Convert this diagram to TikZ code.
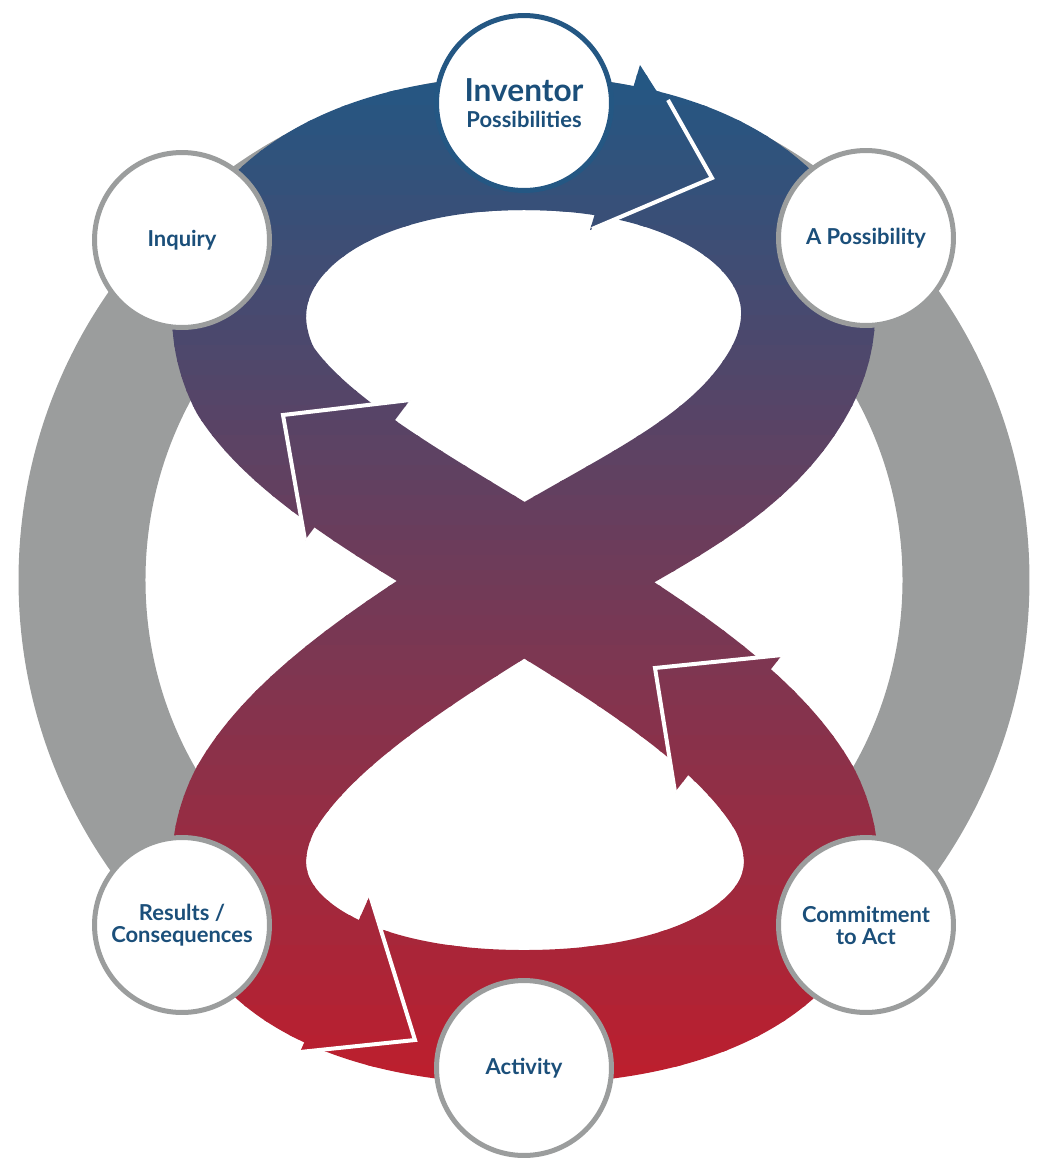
\documentclass[tikz,border=0pt]{standalone}
\usepackage{fontspec}
\setmainfont{Lato}
\definecolor{blueC}{HTML}{245783}
\definecolor{redC}{HTML}{BE1E2D}
\definecolor{grayR}{HTML}{9B9D9D}
\definecolor{txt}{HTML}{1B4F7A}
\newcommand\eightpath{(255,380) .. controls (195,260) and (310,143) .. (524,143) .. controls (740,143) and (855,260) .. (790,380) .. controls (740,470) and (640,510) .. (524,580) .. controls (410,650) and (300,720) .. (255,800) .. controls (195,920) and (310,1017) .. (524,1017) .. controls (740,1017) and (855,920) .. (795,800) .. controls (750,720) and (640,650) .. (524,580) .. controls (410,510) and (300,450) .. (255,380) -- cycle}
\newcommand\arrowheads{(640,65) -- (712,178) -- (590,230) -- cycle (410,400) -- (283,415) -- (305,540) -- cycle (782,655) -- (655,668) -- (675,792) -- cycle (370,895) -- (415,1040) -- (300,1052) -- cycle}
\begin{document}
\begin{tikzpicture}[x=0.02cm,y=-0.02cm,
  stage/.style={circle,draw=grayR,line width=0.1cm,fill=white,minimum size=3.5cm,align=center,font=\bfseries\fontsize{12.5}{13.5}\selectfont,text=txt,inner sep=0pt},
  edge/.style={white,line width=0.08cm,line join=miter}]
\useasboundingbox (0,0) rectangle (1046,1164);
\draw[grayR,line width=2.54cm] (524,580) circle (442);
\foreach \i in {0,...,69}{
  \pgfmathsetmacro\ya{60+\i*15}
  \pgfmathsetmacro\yb{\ya+16}
  \pgfmathsetmacro\t{max(0,min(100,(\ya+7-80)/1005*100))}
  \colorlet{cc}{redC!\t!blueC}
  \begin{scope}
    \clip (0,\ya) rectangle (1046,\yb);
    \draw[cc,line width=2.68cm,line join=round] \eightpath;
    \fill[cc] \arrowheads;
  \end{scope}
}
\draw[edge] (668,100) -- (712,178) -- (592,229);
\draw[edge] (410,400) -- (283,415) -- (305,540);
\draw[edge] (782,655) -- (655,668) -- (675,792);
\draw[edge] (370,895) -- (415,1040) -- (300,1052);
\node[stage,draw=blueC] (inv) at (524,103) {{\fontsize{18}{19}\selectfont Inventor}\\[1pt]Possibilities};
\node[stage] (inq) at (182,240) {Inquiry};
\node[stage] (pos) at (866,238) {A Possibility};
\node[stage] (com) at (866,925) {Commitment\\[-1pt]to Act};
\node[stage] (act) at (524,1068) {Activity};
\node[stage] (res) at (182,925) {Results /\\[-1pt]Consequences};
\end{tikzpicture}
\end{document}
